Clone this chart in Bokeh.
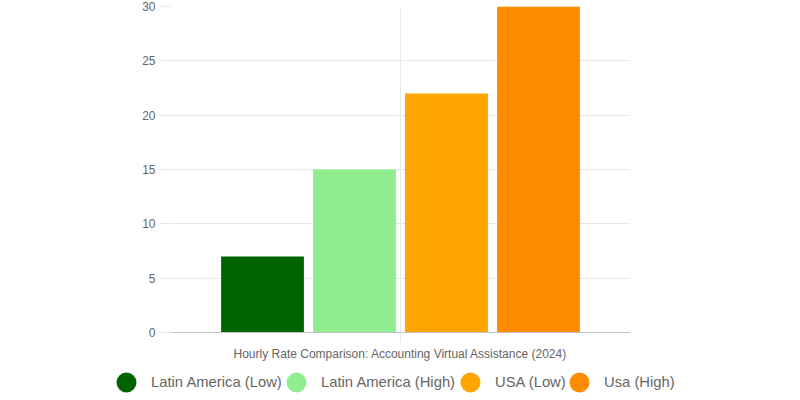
from bokeh.plotting import figure
from bokeh.models import ColumnDataSource, FactorRange, Range1d, Legend, LegendItem
from bokeh.transform import dodge
from bokeh.embed import file_html
from bokeh.resources import INLINE

# ---- data ----
category = "Accounting Virtual Assistance"
series = ["Latin America (Low)", "Latin America (High)", "USA (Low)", "Usa (High)"]
rates = [7, 15, 22, 30]
colors = ["#006400", "#90EE90", "#FFA500", "#FF8C00"]
y_ticks = [0, 5, 10, 15, 20, 25, 30]
x_title = "Hourly Rate Comparison: Accounting Virtual Assistance (2024)"

# ---- layout constants (legend swatch centres, in pixels) ----
legend_centres = [126, 296, 470, 579]

FONT = "Liberation Sans"
TEXT = "#666666"
GRID = "#e8e8e8"

p = figure(
    width=800, height=363, title=None,
    x_range=FactorRange(factors=[category], range_padding=0),
    y_range=Range1d(0, 30),
    output_backend="svg", toolbar_location=None,
    min_border_left=170, min_border_right=170,
    min_border_top=6, min_border_bottom=28,
)
p.outline_line_color = None

n = len(series)
group_frac = 0.8
slot = group_frac / n
bar_w = slot * 0.9

for i, (r, c) in enumerate(zip(rates, colors)):
    src = ColumnDataSource(dict(cat=[category], rate=[r]))
    off = (i - (n - 1) / 2) * slot
    p.vbar(x=dodge("cat", off, range=p.x_range), top="rate", width=bar_w,
           source=src, fill_color=c, line_color=None)

# y axis
p.yaxis.ticker = y_ticks
p.yaxis.axis_line_color = None
p.yaxis.major_tick_line_color = GRID
p.yaxis.major_tick_out = 11
p.yaxis.major_tick_in = 0
p.yaxis.minor_tick_line_color = None
p.yaxis.major_label_standoff = 4
p.yaxis.major_label_text_font = FONT
p.yaxis.major_label_text_font_size = "12px"
p.yaxis.major_label_text_color = TEXT

# x axis (the single category carries no visible tick label, as in the original)
p.xaxis.axis_line_color = "#c4c4c4"
p.xaxis.major_tick_line_color = GRID
p.xaxis.major_tick_out = 10
p.xaxis.major_tick_in = 0
p.xaxis.major_label_overrides = {category: ""}
p.xaxis.major_label_text_font_size = "0px"
p.xaxis.major_label_standoff = 0
p.xaxis.axis_label = x_title
p.xaxis.axis_label_standoff = 4
p.xaxis.axis_label_text_font = FONT
p.xaxis.axis_label_text_font_size = "12px"
p.xaxis.axis_label_text_font_style = "normal"
p.xaxis.axis_label_text_color = TEXT

p.xgrid.grid_line_color = GRID
p.ygrid.grid_line_color = GRID

# ---- legend strip (separate root, full-width frame) ----
lf = figure(
    width=800, height=37, title=None, x_range=Range1d(0, 1), y_range=Range1d(0, 1),
    output_backend="svg", toolbar_location=None,
    x_axis_location=None, y_axis_location=None,
    min_border=0,
)
lf.outline_line_color = None
lf.xgrid.visible = False
lf.ygrid.visible = False

nan = float("nan")
for s, c, cx in zip(series, colors, legend_centres):
    dot = lf.scatter(x=[nan], y=[nan], marker="circle", fill_color=c, line_color=None)
    lg = Legend(
        items=[LegendItem(label=s, renderers=[dot])],
        orientation="horizontal", location=(cx - 25, -7),
        glyph_width=50, glyph_height=50, label_standoff=0, spacing=0,
        padding=0, margin=0, border_line_color=None, background_fill_alpha=0,
        label_text_font=FONT, label_text_font_size="14.8px", label_text_color=TEXT,
    )
    lf.add_layout(lg, "center")

open("out.html", "w").write(file_html([p, lf], INLINE))
